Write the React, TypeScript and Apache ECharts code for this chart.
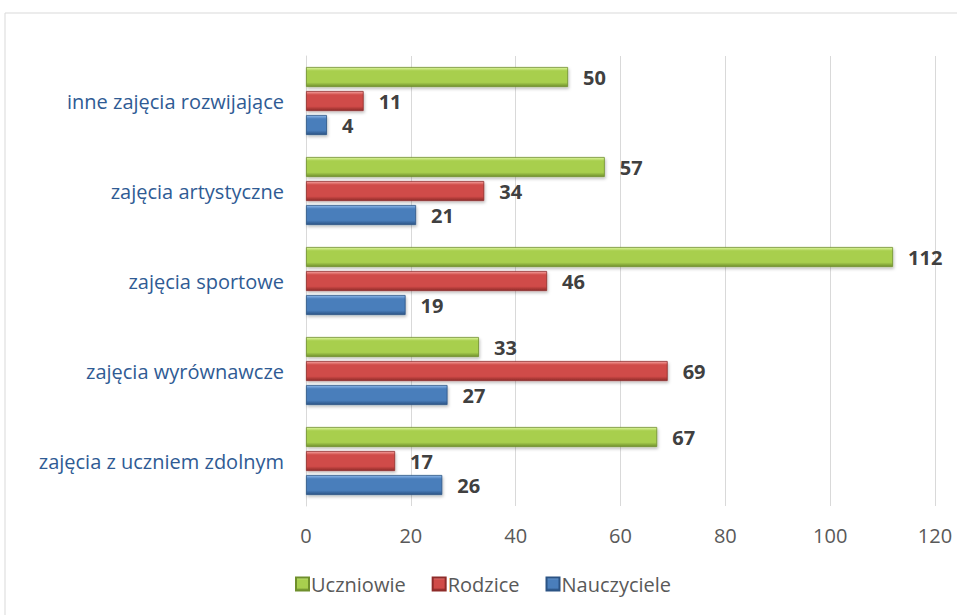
import React, { useEffect, useRef } from "react";
import * as echarts from "echarts";

const categories = [
  "zajęcia z uczniem zdolnym",
  "zajęcia wyrównawcze",
  "zajęcia sportowe",
  "zajęcia artystyczne",
  "inne zajęcia rozwijające",
];
const uczniowie = [67, 33, 112, 57, 50];
const rodzice = [17, 69, 46, 34, 11];
const nauczyciele = [26, 27, 19, 21, 4];
const xTicks = [0, 20, 40, 60, 80, 100, 120];

const FONT = "Open Sans";

function grad(top: string, mid: string, bot: string) {
  return new echarts.graphic.LinearGradient(0, 0, 0, 1, [
    { offset: 0, color: top },
    { offset: 0.18, color: mid },
    { offset: 0.78, color: mid },
    { offset: 1, color: bot },
  ]);
}

export default function App() {
  const ref = useRef<HTMLDivElement>(null);
  useEffect(() => {
    if (!ref.current) return;
    const chart = echarts.init(ref.current, undefined, { renderer: "svg" });
    const label = {
      show: true,
      position: "right" as const,
      distance: 15,
      color: "#404040",
      fontWeight: "bold" as const,
      fontSize: 20,
      fontFamily: FONT,
    };
    const mk = (name: string, data: number[], c: [string, string, string]) => ({
      name,
      type: "bar" as const,
      data,
      barWidth: 20,
      barGap: "20%",
      label,
      itemStyle: {
        color: grad(c[0], c[1], c[2]),
        borderColor: c[2],
        borderWidth: 0.8,
        shadowColor: "rgba(0,0,0,0.25)",
        shadowBlur: 3,
        shadowOffsetY: 2,
        shadowOffsetX: 1,
      },
    });
    chart.setOption({
      animation: false,
      backgroundColor: "#fff",
      textStyle: { fontFamily: FONT },
      graphic: [
        {
          type: "rect",
          shape: { x: 5, y: 13, width: 970, height: 620 },
          style: { fill: "none", stroke: "#d9d9d9", lineWidth: 1 },
          silent: true,
        },
      ],
      grid: { left: 306, right: 22, top: 56, bottom: 109 },
      legend: {
        bottom: 16,
        left: 290,
        data: ["Uczniowie", "Rodzice", "Nauczyciele"],
        itemWidth: 13,
        itemHeight: 13,
        itemGap: 26,
        icon: "rect",
        textStyle: { fontSize: 20, color: "#595959", fontFamily: FONT, padding: [0, 0, 0, -3] },
      },
      xAxis: {
        type: "value",
        min: xTicks[0],
        max: xTicks[xTicks.length - 1],
        interval: 20,
        axisLine: { show: false },
        axisTick: { show: false },
        splitLine: { lineStyle: { color: "#d9d9d9", width: 1 } },
        axisLabel: { color: "#595959", fontSize: 20, margin: 19, fontFamily: FONT },
      },
      yAxis: {
        type: "category",
        data: categories,
        axisLine: { show: true, lineStyle: { color: "#d9d9d9" } },
        axisTick: { show: false },
        axisLabel: { color: "#2f5b94", fontSize: 20, margin: 22, fontFamily: FONT },
      },
      series: [
        mk("Uczniowie", uczniowie, ["#dff7a0", "#a8cf4e", "#6f8f2c"]),
        mk("Rodzice", rodzice, ["#f6a3a1", "#d04b48", "#8e2b29"]),
        mk("Nauczyciele", nauczyciele, ["#8fbaec", "#4a7ebb", "#2b5384"]),
      ],
    });
    return () => chart.dispose();
  }, []);
  return (
    <div
      ref={ref}
      style={{ position: "fixed", left: 0, top: 0, width: 957, height: 615 }}
    />
  );
}
